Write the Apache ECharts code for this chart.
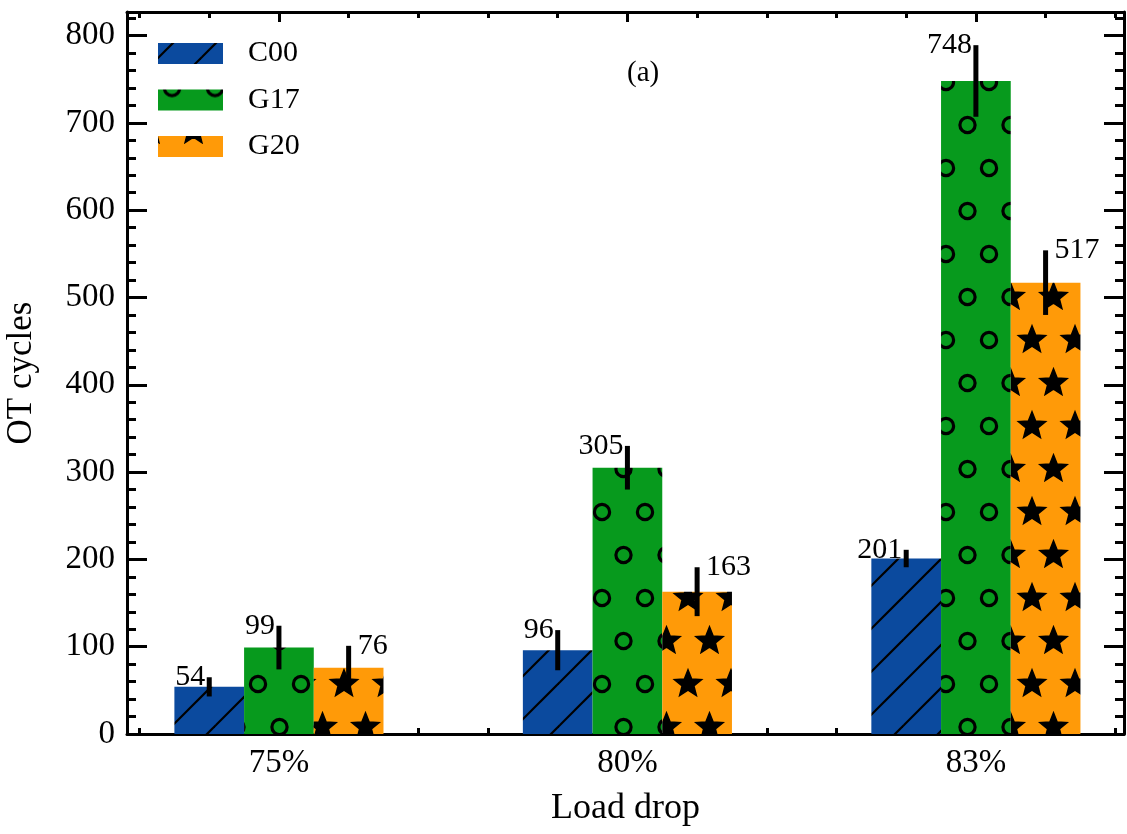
<!DOCTYPE html>
<html><head><meta charset="utf-8">
<script src="https://cdn.jsdelivr.net/npm/echarts@6/dist/echarts.min.js"></script>
<style>html,body{margin:0;padding:0;background:#fff}#c{width:1127px;height:834px}</style>
</head><body><div id="c"></div>
<script>
// ---- data ----
const categories = ['75%', '80%', '83%'];
const seriesNames = ['C00', 'G17', 'G20'];
const c00 = [54, 96, 201];
const g17 = [99, 305, 748];
const g20 = [76, 163, 517];
const c00Err = [11, 23, 10];
const g17Err = [25, 25, 41];
const g20Err = [25, 28, 37];
const yTicks = [0, 100, 200, 300, 400, 500, 600, 700, 800];
const yMinorTicks = [20, 40, 60, 80, 120, 140, 160, 180, 220, 240, 260, 280, 320, 340, 360, 380,
  420, 440, 460, 480, 520, 540, 560, 580, 620, 640, 660, 680, 720, 740, 760, 780, 820];
const xTicks = [0, 1, 2];
const xMinorTicks = [-0.4, -0.2, 0.2, 0.4, 0.6, 0.8, 1.2, 1.4, 1.6, 1.8, 2.2, 2.4];

// ---- styles ----
const FONT = '"Liberation Serif","Times New Roman",serif';
const COLORS = ['#0b4a9e', '#079a1d', '#ff9a08'];
const CELL = 43;
const BAR_W = 0.2, STEP = 0.2;
const LEG_LEFT = 158, LEG_TOP = 43, LEG_STEP = 46.5;

function mk(w, h) { const c = document.createElement('canvas'); c.width = w; c.height = h; return c; }
function mod(a, m) { return ((a % m) + m) % m; }
// pattern tiles anchored to absolute page coordinates; (ox, oy) = local origin of the element in page coords
function hatchPattern(bg, ox, oy) {
  const s = CELL, c = mk(s, s), g = c.getContext('2d');
  g.fillStyle = bg; g.fillRect(0, 0, s, s);
  g.strokeStyle = '#000'; g.lineWidth = 2.2;
  const k = mod(38 - ox - oy, s); // lines x + y = k (mod s)
  for (const o of [-2 * s, -s, 0, s, 2 * s]) {
    g.beginPath(); g.moveTo(k + o - s - 2, s + 2); g.lineTo(k + o + 2, -2); g.stroke();
  }
  return c;
}
function latticePts(ox, oy) {
  const s = CELL, W = s, H = 2 * s, pts = [];
  const base = [[0, 82], [s / 2, 82 - s]];
  base.forEach(([bx, by]) => {
    const x0 = mod(bx - ox, W), y0 = mod(by - oy, H);
    for (const dx of [-W, 0, W]) for (const dy of [-H, 0, H]) pts.push([x0 + dx, y0 + dy]);
  });
  return pts;
}
function circlePattern(bg, ox, oy) {
  const c = mk(CELL, 2 * CELL), g = c.getContext('2d');
  g.fillStyle = bg; g.fillRect(0, 0, c.width, c.height);
  g.strokeStyle = '#000'; g.lineWidth = 3.2;
  latticePts(ox, oy).forEach(([x, y]) => { g.beginPath(); g.arc(x, y, 7.6, 0, Math.PI * 2); g.stroke(); });
  return c;
}
function starPattern(bg, ox, oy) {
  const c = mk(CELL, 2 * CELL), g = c.getContext('2d');
  g.fillStyle = bg; g.fillRect(0, 0, c.width, c.height);
  g.fillStyle = '#000'; g.strokeStyle = '#000'; g.lineWidth = 1.5;
  latticePts(ox, oy).forEach(([x, y]) => {
    g.beginPath();
    for (let k = 0; k < 10; k++) {
      const r = k % 2 === 0 ? 14.3 : 6.2;
      const a = -Math.PI / 2 + k * Math.PI / 5;
      const px = x + r * Math.cos(a), py = y + r * Math.sin(a);
      k === 0 ? g.moveTo(px, py) : g.lineTo(px, py);
    }
    g.closePath(); g.fill(); g.stroke();
  });
  return c;
}
const makers = [hatchPattern, circlePattern, starPattern];
const fills = makers.map((f, k) => ({ image: f(COLORS[k], 0, 0), repeat: 'repeat' }));
const legendFills = makers.map((f, k) => ({ image: f(COLORS[k], LEG_LEFT, LEG_TOP + k * LEG_STEP - 6), repeat: 'repeat' }));

const allValues = [c00, g17, g20];
const allErrs = [c00Err, g17Err, g20Err];

function barSeries(k) {
  return {
    type: 'custom', name: seriesNames[k], xAxisIndex: 0, yAxisIndex: 0, z: 2,
    itemStyle: { color: fills[k] },
    encode: { x: 0, y: 1 },
    data: allValues[k].map((v, i) => [i, v]),
    renderItem(params, api) {
      const xc = api.value(0) + (k - 1) * STEP, v = api.value(1);
      const p0 = api.coord([xc - BAR_W / 2, v]);
      const p1 = api.coord([xc + BAR_W / 2, 0]);
      return { type: 'rect', shape: { x: p0[0], y: p0[1], width: p1[0] - p0[0], height: p1[1] - p0[1] },
        style: { fill: fills[k] } };
    }
  };
}
function errSeries(k) {
  return {
    type: 'custom', name: seriesNames[k] + ' err', xAxisIndex: 0, yAxisIndex: 0, z: 5,
    encode: { x: 0, y: 1 },
    data: allValues[k].map((v, i) => [i, v, allErrs[k][i]]),
    renderItem(params, api) {
      const xc = api.value(0) + (k - 1) * STEP, v = api.value(1), e = api.value(2);
      const top = api.coord([xc, v + e]), bot = api.coord([xc, v - e]);
      const right = k === 2;
      return { type: 'group', children: [
        { type: 'line', shape: { x1: top[0], y1: top[1], x2: bot[0], y2: bot[1] },
          style: { stroke: '#000', lineWidth: 5 } },
        { type: 'text', x: right ? top[0] + 9 : top[0] - 4, y: top[1],
          style: { text: String(v), fill: '#000', font: '30px ' + FONT,
            align: right ? 'left' : 'right', verticalAlign: 'middle' } }
      ] };
    }
  };
}

const axisLineStyle = { color: '#000', width: 3 };
function xAx(pos, ticks, len, labels) {
  return {
    type: 'value', position: pos, min: -0.436, max: 2.425, interval: 1,
    axisLine: { show: ticks === xTicks, onZero: false, lineStyle: axisLineStyle },
    axisTick: { show: true, inside: true, length: len, customValues: ticks, lineStyle: { color: '#000', width: 3 } },
    axisLabel: labels ? { show: true, customValues: xTicks, formatter: v => categories[Math.round(v)],
      color: '#000', fontSize: 33, fontFamily: FONT, margin: 13 } : { show: false },
    splitLine: { show: false },
    name: labels ? 'Load drop' : '', nameLocation: 'middle', nameGap: 57,
    nameTextStyle: { color: '#000', fontSize: 36, fontFamily: FONT }
  };
}
function yAx(pos, ticks, len, labels) {
  return {
    type: 'value', position: pos, min: 0, max: 827, interval: 100,
    axisLine: { show: ticks === yTicks, onZero: false, lineStyle: axisLineStyle },
    axisTick: { show: true, inside: true, length: len, customValues: ticks, lineStyle: { color: '#000', width: 3 } },
    axisLabel: labels ? { show: true, customValues: yTicks, color: '#000', fontSize: 33, fontFamily: FONT, margin: 12 } : { show: false },
    splitLine: { show: false },
    name: labels ? 'OT cycles' : '', nameLocation: 'middle', nameGap: 88,
    nameTextStyle: { color: '#000', fontSize: 35, fontFamily: FONT }
  };
}

const chart = echarts.init(document.getElementById('c'), null, { renderer: 'canvas' });
chart.setOption({
  animation: false,
  backgroundColor: '#fff',
  grid: { left: 127, right: 3, top: 12, bottom: 100, containLabel: false, outerBoundsMode: 'none' },
  xAxis: [xAx('bottom', xTicks, 10, true), xAx('bottom', xMinorTicks, 6, false),
          xAx('top', xTicks, 10, false), xAx('top', xMinorTicks, 6, false)],
  yAxis: [yAx('left', yTicks, 20, true), yAx('left', yMinorTicks, 9, false),
          yAx('right', yTicks, 20, false), yAx('right', yMinorTicks, 9, false)],
  legend: {
    orient: 'vertical', left: LEG_LEFT, top: LEG_TOP - 4.5, padding: 0,
    itemWidth: 65, itemHeight: 21, itemGap: 16.5,
    icon: 'rect',
    textStyle: { color: '#000', fontSize: 30, fontFamily: FONT, padding: [0, 0, 0, 20] },
    data: seriesNames.map((n, k) => ({ name: n, itemStyle: { color: legendFills[k] } }))
  },
  graphic: [{ type: 'text', left: 627, top: 59, style: { text: '(a)', fill: '#000', font: '29px ' + FONT } }],
  series: [barSeries(0), barSeries(1), barSeries(2), errSeries(0), errSeries(1), errSeries(2)]
});
</script></body></html>
